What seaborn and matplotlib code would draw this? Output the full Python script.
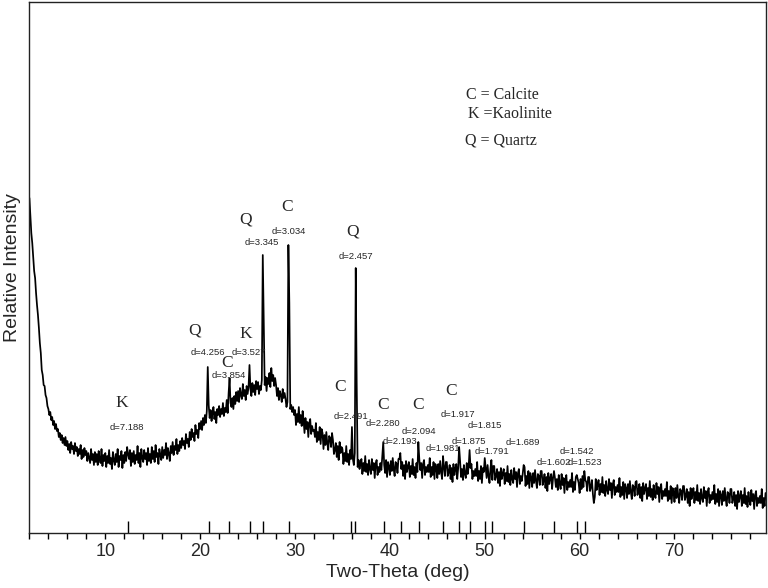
import numpy as np
import pandas as pd
import matplotlib
matplotlib.use("Agg")
import matplotlib.pyplot as plt
import seaborn as sns
from matplotlib.ticker import MultipleLocator

# ---------------- data ----------------
scan_start = 2.0
scan_step = 0.1
# intensity (arbitrary units) read per 0.1 deg, one row per degree (2..79)
intensity_rows = [
    [335, 318, 300, 290, 276, 262, 255, 240, 228, 218],
    [205, 190, 180, 163, 158, 148, 147, 138, 135, 127],
    [124, 118, 121, 113, 116, 108, 112, 104, 109, 102],
    [104, 96, 100, 93, 98, 90, 95, 88, 96, 87],
    [92, 83, 89, 80, 91, 84, 87, 79, 90, 82],
    [86, 77, 84, 79, 88, 74, 83, 76, 85, 78],
    [82, 72, 80, 75, 70, 84, 73, 79, 68, 81],
    [71, 79, 68, 82, 74, 70, 84, 67, 78, 72],
    [80, 66, 77, 70, 83, 69, 75, 64, 81, 73],
    [68, 79, 71, 84, 66, 77, 73, 82, 65, 78],
    [70, 81, 72, 86, 79, 74, 83, 67, 80, 71],
    [82, 69, 78, 73, 87, 70, 80, 66, 84, 75],
    [71, 83, 74, 80, 68, 85, 72, 79, 70, 86],
    [74, 82, 71, 88, 76, 80, 69, 84, 78, 73],
    [86, 75, 83, 78, 90, 74, 85, 79, 72, 87],
    [80, 91, 78, 87, 83, 94, 79, 88, 82, 92],
    [85, 95, 88, 92, 84, 99, 90, 94, 86, 101],
    [93, 104, 96, 100, 92, 108, 99, 103, 95, 110],
    [104, 112, 103, 115, 108, 118, 110, 122, 166, 128],
    [115, 123, 112, 120, 126, 114, 121, 110, 124, 118],
    [127, 116, 124, 119, 130, 117, 125, 121, 133, 120],
    [140, 155, 130, 126, 135, 124, 137, 129, 141, 132],
    [142, 131, 145, 138, 134, 149, 137, 143, 133, 147],
    [139, 146, 168, 144, 137, 150, 141, 148, 138, 152],
    [144, 151, 139, 147, 143, 153, 278, 215, 148, 156],
    [142, 155, 149, 160, 146, 165, 152, 158, 147, 155],
    [148, 137, 145, 133, 142, 138, 131, 144, 135, 140],
    [134, 126, 131, 288, 230, 124, 128, 121, 126, 118],
    [123, 108, 119, 111, 126, 110, 118, 107, 122, 113],
    [100, 115, 104, 111, 96, 110, 114, 99, 107, 102],
    [103, 96, 110, 91, 101, 93, 106, 89, 104, 100],
    [84, 98, 88, 101, 90, 83, 97, 95, 86, 100],
    [93, 79, 83, 90, 76, 87, 73, 91, 80, 86],
    [84, 69, 80, 72, 87, 71, 79, 68, 83, 74],
    [106, 74, 68, 80, 265, 150, 66, 73, 64, 70],
    [74, 59, 70, 62, 77, 61, 69, 58, 73, 64],
    [59, 74, 63, 70, 55, 69, 73, 58, 66, 61],
    [70, 63, 77, 91, 68, 60, 73, 56, 71, 67],
    [58, 72, 62, 75, 64, 57, 71, 69, 60, 74],
    [74, 80, 64, 71, 57, 68, 54, 72, 61, 67],
    [71, 56, 67, 59, 74, 58, 66, 55, 70, 61],
    [91, 74, 63, 70, 55, 69, 73, 58, 66, 61],
    [68, 61, 75, 56, 66, 58, 71, 54, 69, 65],
    [55, 69, 59, 72, 61, 54, 77, 66, 57, 71],
    [71, 57, 61, 68, 54, 65, 51, 69, 58, 64],
    [69, 54, 65, 86, 72, 56, 64, 53, 68, 59],
    [55, 70, 59, 66, 83, 65, 69, 54, 62, 57],
    [64, 57, 71, 52, 62, 54, 67, 50, 65, 61],
    [75, 65, 55, 68, 57, 50, 64, 73, 53, 67],
    [67, 53, 57, 64, 50, 61, 47, 65, 54, 60],
    [64, 49, 60, 52, 67, 51, 59, 48, 63, 54],
    [50, 65, 54, 61, 46, 60, 64, 49, 57, 52],
    [59, 68, 66, 47, 57, 49, 62, 45, 60, 56],
    [46, 60, 50, 63, 52, 45, 59, 57, 48, 62],
    [62, 48, 52, 59, 45, 56, 42, 60, 49, 55],
    [59, 44, 55, 62, 55, 46, 54, 43, 58, 49],
    [44, 59, 48, 55, 40, 54, 58, 43, 51, 46],
    [53, 46, 60, 41, 51, 43, 56, 58, 54, 50],
    [40, 54, 44, 57, 46, 62, 53, 51, 42, 56],
    [56, 42, 46, 53, 39, 30, 36, 54, 43, 49],
    [53, 38, 49, 41, 56, 40, 48, 37, 52, 43],
    [39, 54, 43, 50, 35, 49, 53, 38, 46, 41],
    [48, 41, 55, 36, 46, 38, 51, 34, 49, 45],
    [35, 49, 39, 52, 41, 34, 48, 46, 37, 51],
    [52, 38, 42, 49, 35, 46, 32, 50, 39, 45],
    [49, 34, 45, 37, 52, 36, 44, 33, 48, 39],
    [35, 50, 39, 46, 31, 45, 49, 34, 42, 37],
    [44, 37, 51, 32, 42, 34, 47, 30, 45, 41],
    [31, 45, 35, 48, 37, 30, 44, 42, 33, 47],
    [47, 33, 37, 44, 30, 41, 27, 45, 34, 40],
    [45, 30, 41, 33, 48, 32, 40, 29, 44, 35],
    [31, 46, 35, 42, 27, 41, 45, 30, 38, 33],
    [41, 34, 48, 29, 39, 31, 44, 27, 42, 38],
    [28, 42, 32, 45, 34, 27, 41, 39, 30, 44],
    [44, 30, 34, 41, 27, 38, 24, 42, 31, 37],
    [42, 27, 38, 30, 45, 29, 37, 26, 41, 32],
    [28, 43, 32, 39, 24, 38, 42, 27, 35, 30],
    [37, 30, 44, 25, 35, 27, 40],
]
intensity = [v for row in intensity_rows for v in row]
two_theta = np.round(scan_start + scan_step * np.arange(len(intensity)), 1)

# reference peak positions (2-theta, deg) drawn as sticks on the axis
ref_positions = [12.37, 20.93, 23.09, 25.26, 26.65, 29.33, 35.93, 36.34, 39.38, 41.13,
                 43.09, 45.62, 47.27, 48.40, 50.05, 50.72, 54.18, 57.32, 59.74, 60.52]

# phase letters (letter, x, y)
phase_letters = [("K", 11.73, 130), ("Q", 19.45, 203), ("C", 22.79, 170), ("K", 24.79, 199),
                 ("Q", 24.82, 314), ("C", 29.18, 326), ("Q", 36.07, 302), ("C", 34.80, 146),
                 ("C", 39.29, 128), ("C", 42.98, 128), ("C", 46.50, 142)]
# d-spacing labels (text, x, y)
d_labels = [("d=7.188", 12.25, 106), ("d=4.256", 20.77, 181), ("d=3.854", 23.00, 158),
            ("d=3.527", 25.14, 181), ("d=3.345", 26.48, 291), ("d=3.034", 29.30, 302),
            ("d=2.457", 36.38, 277), ("d=2.491", 35.89, 117), ("d=2.280", 39.26, 110),
            ("d=2.193", 41.05, 92), ("d=2.094", 43.11, 102), ("d=1.981", 45.58, 85),
            ("d=1.917", 47.16, 119), ("d=1.815", 50.01, 108), ("d=1.875", 48.32, 92),
            ("d=1.791", 50.74, 82), ("d=1.689", 54.06, 91), ("d=1.542", 59.70, 82),
            ("d=1.602", 57.28, 71), ("d=1.523", 60.60, 71)]
legend_lines = [("C = Calcite", 48.05, 438), ("K =Kaolinite", 48.19, 419), ("Q = Quartz", 47.87, 393)]

x_label = "Two-Theta (deg)"
y_label = "Relative Intensity"

# ---------------- plot ----------------
sns.set_style("ticks")
plt.rcParams["font.family"] = ["Liberation Sans", "DejaVu Sans"]

df = pd.DataFrame({"two_theta": two_theta, "intensity": intensity})

fig = plt.figure(figsize=(7.68, 5.88), dpi=100)
ax = fig.add_axes([0.0383, 0.0935, 0.9585, 0.9031])

sns.lineplot(data=df, x="two_theta", y="intensity", ax=ax, color="black",
             linewidth=1.25, sort=False, estimator=None)
ax.vlines(ref_positions, 0, 12, color="black", linewidth=1.0)

for letter, x, y in phase_letters:
    ax.text(x, y, letter, ha="center", va="center", fontsize=12.5,
            family=["Liberation Serif", "DejaVu Serif"])
for txt, x, y in d_labels:
    ax.text(x, y, txt, ha="center", va="center", fontsize=6.8)
for txt, x, y in legend_lines:
    ax.text(x, y, txt, ha="left", va="center", fontsize=11.5,
            family=["Liberation Serif", "DejaVu Serif"])

ax.set_xlim(2.0, 79.6)
ax.set_ylim(0, 531)
ax.xaxis.set_major_locator(MultipleLocator(10))
ax.xaxis.set_minor_locator(MultipleLocator(2))
ax.tick_params(axis="x", which="both", direction="out", length=4, width=1,
               labelsize=13, pad=3, color="black")
ax.set_yticks([])
ax.set_xlabel(x_label, fontsize=14, labelpad=3)
ax.set_ylabel(y_label, fontsize=14)
ax.yaxis.set_label_coords(-0.012, 0.5)
for s in ax.spines.values():
    s.set_color("#222222")
    s.set_linewidth(1.0)
    s.set_visible(True)

fig.savefig("out.png", dpi=100)
